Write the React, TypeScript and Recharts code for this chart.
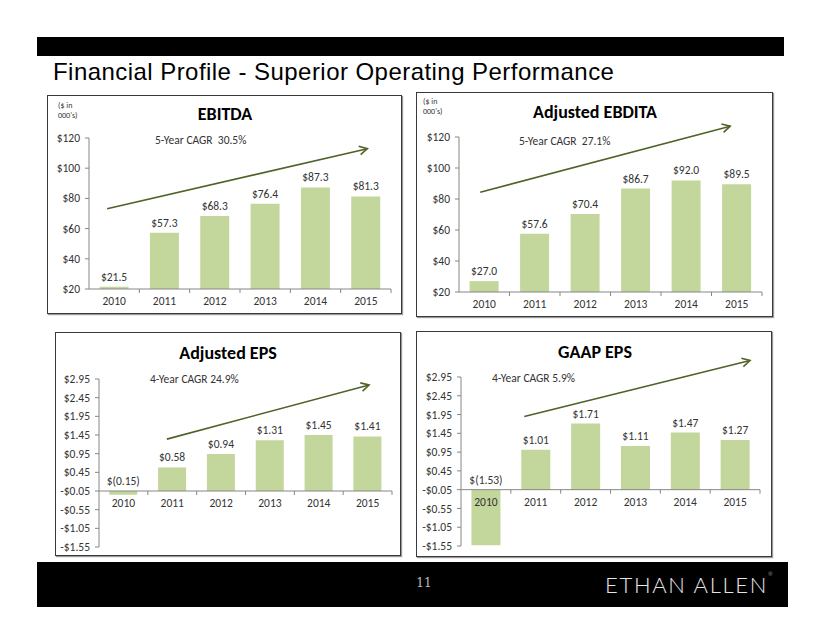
import { BarChart, Bar, XAxis, YAxis, ReferenceLine, LabelList } from "recharts"

const YEARS = ["2010", "2011", "2012", "2013", "2014", "2015"]
const EBITDA = [21.5, 57.3, 68.3, 76.4, 87.3, 81.3]
const ADJ_EBITDA = [27.0, 57.6, 70.4, 86.7, 92.0, 89.5]
const ADJ_EPS = [-0.15, 0.58, 0.94, 1.31, 1.45, 1.41]
const GAAP_EPS = [-1.53, 1.01, 1.71, 1.11, 1.47, 1.27]

const DOLLAR_TICKS = [20, 40, 60, 80, 100, 120]
const EPS_TICKS = [-1.55, -1.05, -0.55, -0.05, 0.45, 0.95, 1.45, 1.95, 2.45, 2.95]

// trend arrows: [category slot (0..6), value] for start and end
const EBITDA_TREND = [[0.36, 73.1], [5.53, 112.9]]
const ADJ_EBITDA_TREND = [[0.42, 84.4], [5.37, 127.0]]
const ADJ_EPS_TREND = [[1.39, 1.34], [5.53, 2.79]]
const GAAP_EPS_TREND = [[1.27, 1.9], [5.8, 3.39]]

const FONT = "Carlito, Lato, 'Open Sans', sans-serif"
const BAR = "#c3d69b"
const ARROW = "#4f6228"
const AXIS = "#868686"
const TEXT = "#333333"
const AX_H = 5

type Box = { left: number; top: number; width: number; height: number }
type Plot = { left: number; top: number; right: number; bottom: number }

const money1 = (v: number) => `$${v.toFixed(1)}`
const epsLabel = (v: number) => (v < 0 ? `$(${Math.abs(v).toFixed(2)})` : `$${v.toFixed(2)}`)
const epsTick = (v: number) => (v < 0 ? `-$${Math.abs(v).toFixed(2)}` : `$${v.toFixed(2)}`)

// the reference line runs between the first and last category centres;
// the arrow is cut out of it at the trend's own slots
const FIRST = 0.5
const LAST = YEARS.length - 0.5

function makeArrow(trend: number[][]) {
  const [[s0], [s1]] = trend
  return (p: any) => {
    const at = (s: number) => {
      const t = (s - FIRST) / (LAST - FIRST)
      return [p.x1 + t * (p.x2 - p.x1), p.y1 + t * (p.y2 - p.y1)]
    }
    const [ax, ay] = at(s0)
    const [bx, by] = at(s1)
    const a = Math.atan2(by - ay, bx - ax)
    const L = 9
    const s = 0.5
    const h1 = `${bx - L * Math.cos(a - s)},${by - L * Math.sin(a - s)}`
    const h2 = `${bx - L * Math.cos(a + s)},${by - L * Math.sin(a + s)}`
    return (
      <g>
        <line x1={ax} y1={ay} x2={bx} y2={by} stroke={ARROW} strokeWidth={1.6} />
        <polyline points={`${h1} ${bx},${by} ${h2}`} fill="none" stroke={ARROW} strokeWidth={1.6} />
      </g>
    )
  }
}

function baseShape(p: any) {
  const { x1, x2, y1 } = p
  const step = (x2 - x1) / YEARS.length
  return (
    <g>
      <line x1={x1} y1={y1} x2={x2} y2={y1} stroke={AXIS} strokeWidth={1} />
      {YEARS.map((_, i) => (
        <line key={i} x1={x1 + step * (i + 1)} x2={x1 + step * (i + 1)} y1={y1} y2={y1 + 4} stroke={AXIS} />
      ))}
    </g>
  )
}

interface ChartProps {
  title: string
  titleAt: [number, number]
  values: number[]
  base: number
  ticks: number[]
  tickFmt: (v: number) => string
  labelFmt: (v: number) => string
  trend: number[][]
  cagr: string
  cagrAt: [number, number]
  note?: [number, number]
  box: Box
  plot: Plot
}

function Panel({ title, titleAt, values, base, ticks, tickFmt, labelFmt, trend, cagr, cagrAt, note, box, plot }: ChartProps) {
  const data = YEARS.map((y, i) => ({ year: y, v: values[i] }))
  const lo = ticks[0]
  const hi = ticks[ticks.length - 1]
  const plotH = plot.bottom - plot.top
  const shift = (plotH * (base - lo)) / (hi - lo)

  // trend value at the first and last category centres
  const [[s0, v0], [s1, v1]] = trend
  const slope = (v1 - v0) / (s1 - s0)
  const vFirst = v0 + slope * (FIRST - s0)
  const vLast = v0 + slope * (LAST - s0)

  const label = (props: any) => {
    const vb = props.viewBox && props.viewBox.width != null ? props.viewBox : props
    const top = Math.min(vb.y, vb.y + vb.height)
    return (
      <text x={vb.x + vb.width / 2} y={top - 6} textAnchor="middle" fontSize={11.5} fill={TEXT} fontFamily={FONT}>
        {labelFmt(props.value)}
      </text>
    )
  }

  const yearTick = (p: any) => (
    <text x={p.x} y={p.y - shift + 16} textAnchor="middle" fontSize={11.5} fill={TEXT} fontFamily={FONT}>
      {p.payload.value}
    </text>
  )

  return (
    <>
      <div
        style={{
          position: "absolute", left: box.left, top: box.top, width: box.width, height: box.height,
          boxSizing: "border-box", border: "1.5px solid #3a3a3a", boxShadow: "1px 1px 1px #999",
        }}
      />
      <div style={{ position: "absolute", left: box.left, top: box.top }}>
        <BarChart
          width={box.width}
          height={box.height}
          data={data}
          barCategoryGap="21%"
          margin={{
            top: plot.top - box.top,
            right: box.left + box.width - plot.right,
            bottom: box.top + box.height - plot.bottom - AX_H,
            left: 0,
          }}
        >
          <YAxis
            type="number"
            domain={[lo, hi]}
            ticks={ticks}
            interval={0}
            width={plot.left - box.left}
            tickFormatter={tickFmt}
            axisLine={{ stroke: AXIS }}
            tickLine={{ stroke: AXIS }}
            tickSize={4}
            tickMargin={5}
            tick={{ fontSize: 11.5, fill: TEXT, fontFamily: FONT }}
          />
          <Bar dataKey={(d: any) => [base, d.v]} fill={BAR} isAnimationActive={false}>
            <LabelList dataKey="v" content={label} />
          </Bar>
          <ReferenceLine y={base} shape={baseShape} ifOverflow="visible" />
          <ReferenceLine
            segment={[{ x: YEARS[0], y: vFirst }, { x: YEARS[YEARS.length - 1], y: vLast }]}
            shape={makeArrow(trend)}
            ifOverflow="visible"
          />
          <XAxis
            dataKey="year"
            axisLine={false}
            tickLine={false}
            tickSize={0}
            tickMargin={0}
            height={AX_H}
            interval={0}
            tick={yearTick}
          />
        </BarChart>
      </div>
      <div
        style={{
          position: "absolute", left: titleAt[0], top: titleAt[1], transform: "translate(-50%, -50%)",
          fontFamily: FONT, fontWeight: 700, fontSize: 18, color: "#000", whiteSpace: "nowrap",
        }}
      >
        {title}
      </div>
      <div
        style={{
          position: "absolute", left: cagrAt[0], top: cagrAt[1], transform: "translateY(-50%)",
          fontFamily: FONT, fontSize: 11.5, color: TEXT, whiteSpace: "pre",
        }}
      >
        {cagr}
      </div>
      {note && (
        <div
          style={{
            position: "absolute", left: note[0], top: note[1], fontFamily: FONT, fontSize: 8,
            lineHeight: "10px", color: TEXT,
          }}
        >
          ($ in
          <br />
          000's)
        </div>
      )}
    </>
  )
}

export default function App() {
  return (
    <div style={{ position: "absolute", left: 0, top: 0, width: 822, height: 635, background: "#fff", overflow: "hidden" }}>
      <div style={{ position: "absolute", left: 37, top: 37, width: 747, height: 19, background: "#000" }} />
      <div
        style={{
          position: "absolute", left: 53, top: 58, fontFamily: "'Liberation Sans', Arial, sans-serif",
          fontSize: 24, letterSpacing: 0.45, color: "#000", whiteSpace: "nowrap",
        }}
      >
        Financial Profile - Superior Operating Performance
      </div>

      <Panel
        title="EBITDA"
        titleAt={[225, 114]}
        values={EBITDA}
        base={20}
        ticks={DOLLAR_TICKS}
        tickFmt={(v) => `$${v}`}
        labelFmt={money1}
        trend={EBITDA_TREND}
        cagr="5-Year CAGR  30.5%"
        cagrAt={[155, 140]}
        note={[58, 100]}
        box={{ left: 47, top: 95, width: 355, height: 219 }}
        plot={{ left: 89, top: 138, right: 391, bottom: 289 }}
      />
      <Panel
        title="Adjusted EBDITA"
        titleAt={[595, 112]}
        values={ADJ_EBITDA}
        base={20}
        ticks={DOLLAR_TICKS}
        tickFmt={(v) => `$${v}`}
        labelFmt={money1}
        trend={ADJ_EBITDA_TREND}
        cagr="5-Year CAGR  27.1%"
        cagrAt={[519, 141]}
        note={[423, 96]}
        box={{ left: 416, top: 92, width: 357, height: 225 }}
        plot={{ left: 459, top: 137, right: 762, bottom: 292 }}
      />
      <Panel
        title="Adjusted EPS"
        titleAt={[228, 353]}
        values={ADJ_EPS}
        base={-0.05}
        ticks={EPS_TICKS}
        tickFmt={epsTick}
        labelFmt={epsLabel}
        trend={ADJ_EPS_TREND}
        cagr="4-Year CAGR 24.9%"
        cagrAt={[150, 379]}
        box={{ left: 55, top: 332, width: 346, height: 224 }}
        plot={{ left: 99, top: 379, right: 392, bottom: 547 }}
      />
      <Panel
        title="GAAP EPS"
        titleAt={[595, 352]}
        values={GAAP_EPS}
        base={-0.05}
        ticks={EPS_TICKS}
        tickFmt={epsTick}
        labelFmt={epsLabel}
        trend={GAAP_EPS_TREND}
        cagr="4-Year CAGR 5.9%"
        cagrAt={[492, 378]}
        box={{ left: 416, top: 331, width: 356, height: 226 }}
        plot={{ left: 461, top: 377, right: 760, bottom: 546 }}
      />

      <div style={{ position: "absolute", left: 37, top: 562, width: 751, height: 45, background: "#000" }} />
      <div
        style={{
          position: "absolute", left: 424, top: 583, transform: "translate(-50%, -50%)",
          fontFamily: "'DejaVu Serif', serif", fontSize: 12, color: "#bbb",
        }}
      >
        11
      </div>
      <div
        style={{
          position: "absolute", left: 605, top: 584, transform: "translateY(-50%)",
          fontFamily: "Lato, 'Open Sans', sans-serif", fontWeight: 300, fontSize: 22, letterSpacing: 1.7,
          color: "#e6e6e6", whiteSpace: "nowrap",
        }}
      >
        ETHAN ALLEN<span style={{ fontSize: 5, verticalAlign: "top", letterSpacing: 0 }}>®</span>
      </div>
    </div>
  )
}
